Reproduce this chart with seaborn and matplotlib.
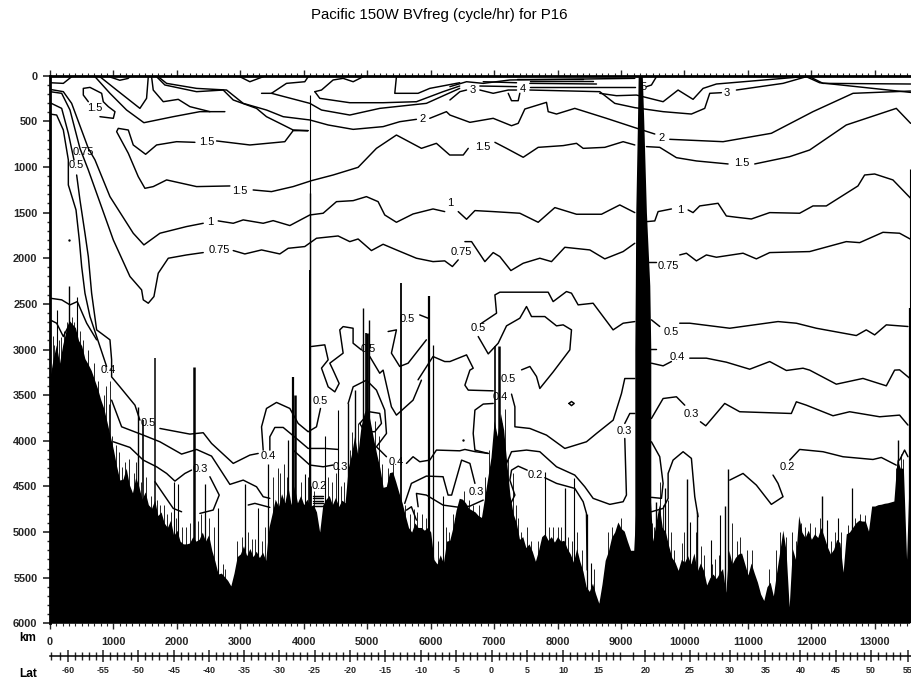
import numpy as np
import pandas as pd
import matplotlib
matplotlib.use("Agg")
import matplotlib.pyplot as plt
from matplotlib.ticker import MultipleLocator
import seaborn as sns

TITLE = "Pacific 150W BVfreg (cycle/hr) for P16"

# Bottom depth (m), one value every 50 km along the section
bathy_depth = [
3300,3100,2950,3150,2950,2800,2680,2720,2760,2900,2960,3100,3160,3230,3330,3430,3550,3650,3800,3950,
4100,4280,4430,4420,4300,4480,4570,4400,4500,4640,4560,4700,4740,4650,4820,4780,4900,4950,4870,5040,
4980,5100,5130,5130,5120,5050,5100,5080,5000,5100,5030,5200,5320,5460,5450,5490,5530,5590,5450,5270,
5240,5150,5260,5180,5270,5210,5280,5220,5310,4950,4800,4640,4720,4580,4680,4500,4700,4500,4680,4600,
4700,4640,4720,4700,4780,5000,4700,4640,4600,4700,4620,4720,4650,4680,4300,4150,3950,4150,3850,3700,
3620,3800,3980,4150,4300,4510,4500,4350,4340,4450,4570,4680,4820,4950,5000,4900,4950,4950,4980,4950,
5000,5300,5350,5250,5340,5100,5090,4950,4760,4630,4640,4680,4740,4760,4780,4820,4840,4620,4400,4180,
3780,3950,3700,3880,4250,4600,4800,4900,5080,5050,5170,5130,5210,5320,5200,5050,5020,5090,5050,5110,
5050,5100,5090,5180,5240,5330,5180,5320,5430,5600,5650,5560,5680,5780,5570,5310,5210,5060,5000,4890,
4960,4990,5100,5200,5200,4500,4500,4500,4500,4500,5100,4900,4700,4950,5000,5150,5280,5330,5420,5300,
5330,5260,5350,5230,5430,5340,5420,5580,5500,5460,5510,5450,5400,5660,5200,5350,5280,5240,5230,5350,
5470,5340,5450,5550,5680,5750,5600,5550,5700,5450,5220,4980,5200,5820,5180,5300,4820,5000,5060,4980,
5080,5020,5060,4950,5050,5160,5240,5190,5080,5120,5440,5020,5000,4950,4900,4870,4880,4880,4990,4715,
4715,4700,4695,4685,4680,4670,4660,4200,4300,4300,5300,4200]
bathy_step_km = 50

# Narrow ridge near 9300 km: depth, west edge km, east edge km
ridge_depth = [0, 500, 1500, 2300, 3000, 4500, 6000]
ridge_west = [9270, 9259, 9232, 9225, 9217, 9217, 9217]
ridge_east = [9335, 9358, 9400, 9453, 9469, 9469, 9469]

# Tall soundings: km, shallowest depth, line width
spike_km = [305,420,105,1654,2273,3832,4105,4105,4105,4935,5024,4987,5539,5975,6037,1391,1470,3071,2441,1953,2021,
            2651,3281,3439,3754,4016,4331,4541,4699,4804,6195,7012,7080,7800,8114,8261,8466,8534,9558,9689,10046,
            10204,10094,10424,10566,10634,10687,12172,12251,12640,12419,13364,13548,13548,3860,5000]
spike_top = [2300,2420,2566,3095,3190,3300,210,1290,2130,2550,2675,2820,2275,2410,2950,3630,3770,4470,4470,4450,4470,
             4740,4740,4250,3990,4360,3950,3660,3590,3445,4610,2960,2960,4340,4520,4410,4800,5340,4670,4520,4420,
             4780,4890,5090,4810,4720,4310,4600,4870,4520,4850,3990,1020,2550,3500,2820]
spike_lw = [1.0,0.8,0.8,1.1,1.8,1.6,0.8,1.0,1.4,1.0,1.0,1.2,1.3,1.6,0.9,1.0,1.2,0.9,0.9,0.8,0.8,
            0.8,0.8,0.9,0.9,0.8,0.8,0.8,1.0,1.0,0.8,1.2,1.8,0.8,0.9,0.8,0.9,0.8,1.0,0.9,1.0,
            1.0,0.8,0.8,0.8,1.0,1.0,1.0,0.8,0.9,0.8,1.0,0.8,1.6,1.8,2.0]

# Short soundings that roughen the sea floor
fine_km = [40,70,105,135,170,225,270,350,380,470,520,600,700,760,850,880,930,950,985,1040,1080,1130,1180,1240,1320,1360,
           1430,1510,1590,1690,1740,1790,1840,1900,1980,2080,2150,2200,2330,2380,2500,2580,2720,2760,2950,3020,3120,3180,
           3230,3340,3390,3510,3590,3630,3690,3730,3960,4060,4110,4160,4380,4440,4500,4590,4640,4730,4760,4860,5120,5180,
           5240,5320,5400,5600,5680,5730,5790,5860,5920,6120,6240,6290,6345,6385,6425,6520,6600,6660,6760,6860,6920,7130,
           7170,7220,7290,7340,7380,7430,7510,7580,7690,7860,7930,8000,8060,8170,8220,8310,8390,8570,8800,8850,9000,9490,
           9520,9620,9660,9740,9790,9840,9960,10000,10180,10260,10300,10440,10480,10540,10750,10830,10880,10980,11060,11330,
           11440,11500,11600,11700,11760,11840,11900,11980,12050,12130,12310,12370,12460,12580,12690,12760,12840,13340,13410,13450]
fine_top = [2850,2950,2720,2900,2860,2800,2700,2640,2700,2800,2900,3000,3150,3350,3500,3400,3600,3350,3950,4050,4120,4290,4230,4200,4350,4230,
            4450,4400,4600,4650,4700,4700,4800,4780,4850,4950,4950,4900,4880,4800,4850,4950,5350,5400,5100,5050,5000,5080,
            5080,5100,4950,4400,4300,4350,4250,4400,4450,4400,4500,4550,4400,4450,4350,4500,4450,4100,3900,3800,3780,3950,
            4250,4300,4250,4700,4800,4750,4780,4800,4850,5100,4950,5000,4800,4850,4700,4550,4650,4700,4700,4400,4100,3800,
            3650,4200,4350,4700,4850,5000,4950,5100,5100,4950,4950,4950,4950,5050,5100,5000,5200,5400,5000,4950,4850,4900,
            4950,4450,4700,4650,5000,5200,5120,5000,5000,5150,5250,5350,5300,5250,4900,5100,5050,5200,5200,5400,
            5200,5000,5050,5000,5100,4900,4950,4900,4950,4850,5100,5000,5000,4920,4850,4800,4810,4300,4150,4200]

# Contours as (km, depth) polylines
c075a = [(0,175),(184,193),(315,376),(472,796),(604,1033),(735,1288),(998,1800),(1260,2200),(1444,2347),(1470,2456),(1549,2493),(1638,2420),(1706,2164),(1864,2000),(2152,1964),(2415,1938)]
c075b = [(2888,1916),(3071,1953),(3334,1909),(3622,1953),(3754,1891),(4016,1872),(4200,1781),(4541,1756),(4725,1818),(4856,1789),(5066,1916),(5250,1847),(5460,1909),(5775,2000),(6037,2037),(6221,2029),(6342,2091),(6434,2018)]
c075c = [(6539,1818),(6644,1818),(6854,2037),(6985,1938),(7090,1982),(7264,2135),(7458,2055),(7720,2000),(7904,2037),(8114,1880),(8508,1909),(8744,2007),(9033,1927),(9217,1836)]
c075d = [(9427,2044),(9558,2044)]
c075e = [(9925,1964),(10030,1945),(10188,2029),(10345,1964),(10503,1989),(10923,1945),(11133,2007),(11343,1938),(11973,1927),(12550,1818),(12761,1829),(13128,1716),(13390,1726),(13564,1792)]
c1a = [(0,150),(210,175),(341,303),(604,796),(709,923),(945,1325),(1312,1726),(1480,1854),(1733,1726),(2152,1653),(2415,1617)]
c1b = [(2651,1591),(2888,1617),(3045,1580),(3360,1617),(3517,1588),(3780,1642),(4095,1526),(4305,1507),(4515,1380),(4778,1369),(4987,1325),(5171,1380),(5276,1526),(5460,1606),(5722,1515),(6037,1460),(6221,1489)]
c1c = [(6434,1489),(6565,1573),(6697,1478),(6985,1489),(7405,1507),(7694,1606),(7957,1445),(8298,1518),(8692,1518),(8980,1416),(9217,1500)]
c1d = [(9400,1599),(9532,1591),(9584,1489),(9794,1460)]
c1e = [(10057,1471),(10135,1500),(10240,1427),(10529,1398),(10660,1537),(10818,1551),(11054,1570),(11343,1500),(11815,1507),(12025,1427),(12235,1427),(12734,1208),(12839,1088),(12997,1077),(13285,1142),(13564,1343)]
c05a = [(0,296),(184,358),(289,631),(378,923)]
c05b = [(420,1088),(472,1361),(551,1726),(604,1982),(656,2383),(735,2785),(945,2894),(971,3113),(971,3300),(1102,3409),(1339,3610),(1417,3774)]
c05c = [(1732,3865),(2205,3927),(2415,3912),(2546,4029),(2888,4248),(3150,4157),(3281,4139)]
c05d = [(3360,4102),(3334,3847),(3412,3646),(3570,3580),(3780,3646),(3911,3810),(4069,3901),(4200,3847),(4263,3646)]
c04a = [(0,420),(105,431),(210,595),(289,923),(289,1197),(410,1471),(462,1800),(499,2091),(551,2383),(630,2639),(735,2858),(892,3186)]
c04b = [(971,3555),(1129,3847),(1470,3938),(1732,4011),(2074,4146),(2310,4095),(2546,4168),(2835,4478),(3045,4431),(3255,4504),(3360,4613),(3465,4631)]
c03a = [(998,4011),(1260,4073),(1470,4212),(1680,4285),(1838,4358),(1969,4442),(2126,4358),(2231,4321)]
c03b = [(2520,4394),(2667,4595),(2572,4759),(2362,4796)]
c03c = [(1654,4449),(1942,4741),(2074,4778)]
c02a = [(3124,4704),(3229,4686),(3465,4730)]
cpeak1 = [(0,2438),(184,2456),(315,2511),(430,2475),(578,2712),(735,2894)]
cpeak2 = [(0,2675),(105,2712),(210,2858),(315,2712)]
c04c = [(3465,4102),(3465,3956),(3544,3854),(3675,3854),(3885,3975),(4069,4084),(4331,4084),(4541,4095)]
c03d = [(3832,4102),(4095,4266),(4305,4285),(4462,4266)]
hatch1 = [(4147,4606),(4305,4606)]
hatch2 = [(4147,4631),(4305,4631)]
hatch3 = [(4147,4657),(4305,4657)]
hatch4 = [(4147,4686),(4305,4686)]
hatch5 = [(4147,4716),(4305,4716)]
cs1 = [(4699,3591),(4778,3409),(4987,3336),(5145,3445),(5276,3664),(5303,3920),(5145,4066),(5303,4175)]
cs2 = [(4882,3810),(5040,3683),(5197,3700),(5224,3810),(5119,3901),(4961,3901),(4882,3810)]
c05e = [(4121,2967),(4331,2949),(4384,3113),(4279,3204),(4384,3409),(4489,3464),(4557,3372),(4462,3226),(4410,3150),(4620,3040),(4567,2785),(4620,2749),(4777,2767),(4777,2931),(4908,3004)]
c05f = [(5040,3077),(5197,3260),(5250,3226),(5381,3628),(5460,3719),(5722,3555),(5854,3336)]
c05g = [(5329,2803),(5460,2785),(5381,3040),(5512,3186),(5644,3150),(5932,2894)]
c05h = [(5827,2621),(5959,2657)]
c05i = [(5801,3332),(6037,3077),(6221,3132),(6303,3132),(6565,3059),(6670,3205),(6618,3226),(6539,3391),(6592,3445),(6985,3453)]
c05j = [(7432,3223),(7563,3186),(7668,3296),(7720,3427),(7931,3245),(8193,3004),(8219,2785),(8088,2730),(7983,2741),(7799,2639),(7589,2639),(7510,2529),(7405,2657),(7195,2741),(7064,2931),(6907,3048),(6749,2858)]
c05k = [(6802,2712),(7038,2602),(7012,2402),(7090,2372),(7852,2372),(7930,2475),(8140,2365),(8219,2383),(8324,2511),(8560,2493),(8875,2785),(9033,2712),(9217,2694)]
c05l = [(9479,2675),(9610,2748)]
c05m = [(9925,2712),(10083,2712),(10713,2767),(11474,2694),(11763,2712),(12078,2767),(12708,2847),(12865,2785),(12997,2840),(13181,2730),(13522,2748)]
c04d = [(9453,2997),(9558,2997)]
c04e = [(9479,3150),(9663,3179),(9794,3132)]
c04f = [(10083,3095),(10345,3095),(10660,3139),(11028,3216),(11343,3132),(11606,3230),(11868,3205),(11973,3226),(12393,3380),(12813,3317),(13181,3398),(13312,3226),(13390,3223),(13548,3314)]
c04g = [(6985,3591),(6828,3598),(6697,3664),(6670,3920),(6697,4102),(6907,4139)]
c04h = [(5618,4248),(5722,4175),(5828,4230),(5985,4212),(6090,4102),(6458,4110),(6539,4095),(6697,4119),(6907,4139)]
c03e = [(5591,4686),(5696,4467),(5932,4387),(6195,4394),(6274,4595),(6330,4595),(6487,4212),(6618,4248),(6697,4467)]
c03f = [(5802,4723),(5775,4577),(5932,4595),(6195,4705),(6457,4730),(6618,4716),(6828,4650)]
c03g = [(5618,4760),(5696,4723),(5775,4869)]
c04i = [(7274,3489),(7327,3628),(7327,3847),(7563,3865),(7825,3938),(8114,4084),(8455,4011),(8613,3920),(8876,3774),(9007,3482),(9059,3318),(9217,3318)]
c03h = [(9059,3975),(9085,4595),(9033,4668),(8823,4697),(8560,4631),(8429,4504),(8271,4376),(7983,4285),(7720,4120),(7510,4102),(7274,4120),(7195,4248)]
c03i = [(9059,3810),(9138,3701),(9217,3701)]
c02b = [(7521,4322),(7379,4278),(7274,4322),(7248,4431),(7327,4595),(7248,4705)]
c02c = [(7799,4405),(7983,4467),(8271,4522),(8403,4668),(8455,4796),(8466,5416)]
ring = [(8180,3591),(8219,3570),(8262,3591),(8219,3615),(8180,3591)]
c03j = [(9479,4011),(9610,4175),(9663,4467),(9637,4631),(9479,4620)]
c02d = [(9479,4778),(9663,4741),(9742,4631),(9742,4358),(9820,4212),(9978,4120),(10109,4193),(10162,4613),(10214,4832)]
c03k = [(9479,3756),(9663,3537),(9873,3518),(10004,3610)]
c03l = [(10251,3792),(10335,3836),(10634,3591),(10870,3682),(11684,3701),(11763,3573),(11921,3610),(12341,3726),(12603,3682),(13076,3737),(13390,3719),(13522,3828)]
c02e = [(10713,4431),(10923,4358),(11133,4486),(11369,4697),(11553,4613),(11474,4467),(11395,4376)]
c02f = [(11658,4212),(11815,4095),(12183,4120),(12498,4175),(12971,4205),(13102,4183),(13338,4267)]
c02g = [(13390,4212),(13469,4102),(13522,4175)]
u_small = [(0,77),(210,84),(341,11)]
u_small2 = [(950,15),(1100,50),(1230,30),(1260,11)]
u_small3 = [(2993,11),(3150,66),(3360,11)]
blob_a = [(604,285),(525,212),(525,139),(630,128),(814,193),(840,285),(919,339),(1024,394),(998,467),(787,449)]
u1 = [(787,11),(1050,157),(1417,358),(1522,248),(1549,11)]
u2 = [(709,11),(945,193),(1207,376),(1480,515),(1942,449),(2362,394),(2756,394)]
u2b = [(1601,11),(1627,157),(1785,285),(2021,259),(2205,339),(2520,394)]
u3 = [(1680,11),(1811,102),(2310,175),(2730,157),(2888,266),(3255,358),(3412,449),(3675,540),(3832,595),(4069,602),(3832,602),(3701,723),(3150,759),(2625,715)]
u3b = [(2284,730),(1995,723),(1680,759),(1507,861),(1312,759),(1234,595),(1076,577),(1050,613),(1234,850),(1391,1106),(1496,1234),(1627,1215),(1838,1142),(2310,1215),(2835,1208)]
u3c = [(3202,1252),(3491,1270),(3832,1215),(4121,1150),(4462,1088),(4856,1004),(5145,796),(5460,650),(5854,796),(6090,741),(6300,869),(6513,869),(6592,796)]
u3d = [(7012,730),(7195,796),(7458,894),(7694,785),(8088,766),(8298,741),(8403,796),(8744,785),(9033,723),(9217,759)]
u3e = [(9400,777),(9610,785),(9873,898),(10188,934),(10687,967)]
u3f = [(11107,967),(11658,887),(11973,814),(12550,540),(13338,358),(13564,522)]
u5 = [(1706,11),(1837,84),(2310,139),(2783,157),(3045,303),(3412,376),(3675,449),(4095,485),(4384,540),(4778,588),(5250,558),(5512,504),(5775,478)]
u5b = [(5985,467),(6248,394),(6303,431),(6618,511),(6985,467),(7274,548),(7379,522),(7484,365),(7825,292),(7852,394),(7983,420),(8271,358),(8770,467),(9217,569),(9532,639)]
u5c = [(9768,697),(10608,723),(11369,631),(12025,394),(12656,193),(13564,168)]
u6 = [(3334,193),(3491,193),(3727,84),(4016,66),(4069,11)]
u7 = [(3491,193),(4095,303),(4279,376),(4725,431),(5197,358),(5932,303),(6457,139)]
u8 = [(4174,175),(4279,157),(4462,47),(4620,29),(4778,66),(4935,11)]
u9 = [(4174,175),(4252,248),(4725,296),(5250,296),(5775,285),(6195,175),(6457,113)]
u10 = [(5460,11),(5434,193),(5801,193),(5985,139),(6457,77)]
t1 = [(6303,120),(6565,66),(6828,84),(7248,47),(9217,29)]
t2 = [(6303,266),(6460,175),(6565,157)]
t2b = [(6775,157),(6985,193),(7222,157),(7353,157)]
t3 = [(6775,113),(7353,120)]
t4 = [(6828,66),(7353,77)]
t5 = [(7353,36),(8403,36)]
t6 = [(7563,157),(8665,175),(8901,303),(9217,350),(9663,394),(10109,420),(10319,358),(10398,193),(10582,186)]
t6b = [(10818,157),(11553,84),(11920,11),(12130,77),(13564,183)]
t7 = [(7563,120),(9217,120)]
t8 = [(7563,84),(8613,91)]
t9 = [(7563,55),(8561,55)]
t10 = [(7222,193),(7274,274),(7379,274),(7405,193)]
t11 = [(8665,193),(8928,219),(9243,212),(9663,285),(9899,157),(10135,259),(10293,139),(10503,91),(11868,11)]
t12 = [(11973,11),(12183,84),(13564,91)]
t13 = [(9558,11),(9479,102),(9400,120)]

contour_lines = [c075a,c075b,c075c,c075d,c075e,c1a,c1b,c1c,c1d,c1e,c05a,c05b,c05c,c05d,c04a,c04b,c03a,c03b,c03c,c02a,
    cpeak1,cpeak2,c04c,c03d,hatch1,hatch2,hatch3,hatch4,hatch5,cs1,cs2,c05e,c05f,c05g,c05h,c05i,c05j,c05k,c05l,c05m,
    c04d,c04e,c04f,c04g,c04h,c03e,c03f,c03g,c04i,c03h,c03i,c02b,c02c,ring,c03j,c02d,c03k,c03l,c02e,c02f,c02g,
    u_small,u_small2,u_small3,blob_a,u1,u2,u2b,u3,u3b,u3c,u3d,u3e,u3f,u5,u5b,u5c,u6,u7,u8,u9,u10,
    t1,t2,t2b,t3,t4,t5,t6,t6b,t7,t8,t9,t10,t11,t12,t13]

label_text = ["1.5","1.5","1.5","1.5","1.5","2","2","3","4","5","3",
              "1","1","1","0.75","0.75","0.75","0.75","0.5",
              "0.4","0.5","0.3","0.4","0.5","0.5","0.5","0.5","0.5","0.5","0.4","0.3","0.2","0.3","0.3","0.2","0.4","0.3","0.2","0.4"]
label_km = [709,2467,2993,6828,10897,5864,9637,6655,7447,9358,10671,
            2530,6300,9925,525,2667,6476,9742,410,
            919,1549,2362,3439,4263,5014,5630,6749,7222,9784,9884,10109,11621,6723,9059,7642,7090,4578,4242,5460]
label_dep = [350,730,1259,777,953,474,679,157,146,128,186,
             1606,1390,1471,832,1909,1934,2080,978,
             3223,3803,4307,4168,3562,3000,2668,2767,3325,2803,3077,3712,4285,4558,3891,4376,3518,4292,4493,4237]

lat_labels = [-60,-55,-50,-45,-40,-35,-30,-25,-20,-15,-10,-5,0,5,10,15,20,25,30,35,40,45,50,55]
lat_label_km = [289,840,1391,1948,2504,3061,3612,4169,4725,5287,5843,6405,6959,7521,8088,8650,9385,10083,10713,11275,11826,12382,12934,13522]
lat_anchor = [-62,-60,-55,-50,-45,-40,-35,-30,-25,-20,-15,-10,-5,0,5,10,15,18,20,25,30,35,40,45,50,55,57]
lat_anchor_km = [20,289,840,1391,1948,2504,3061,3612,4169,4725,5287,5843,6405,6959,7521,8088,8650,8991,9385,10083,10713,11275,11826,12382,12934,13522,13570]

sns.set_theme(style="white")
plt.rcParams["font.family"] = ["Liberation Sans", "DejaVu Sans"]

W, H = 911, 682
fig = plt.figure(figsize=(W / 100, H / 100), dpi=100)
ax = fig.add_axes([50 / W, 1 - 623.3 / H, 861 / W, (623.3 - 75.7) / H])
ax.set_xlim(0, 13570)
ax.set_ylim(6000, 0)

for line in contour_lines:
    d = pd.DataFrame(line, columns=["km", "depth"])
    sns.lineplot(data=d, x="km", y="depth", sort=False, estimator=None, color="black", lw=1.05, ax=ax, zorder=2)

bathy_km = np.arange(len(bathy_depth)) * bathy_step_km
ax.fill_between(bathy_km, bathy_depth, 6000, color="black", lw=0, zorder=3)
ax.fill_betweenx(ridge_depth, ridge_west, ridge_east, color="black", lw=0, zorder=3)
ax.vlines(fine_km, fine_top, 6000, colors="black", linewidths=0.6, zorder=3)
ax.vlines(spike_km, spike_top, 6000, colors="black", linewidths=spike_lw, zorder=3)
ax.scatter([304, 6513], [1800, 3993], s=3, color="black", lw=0, zorder=3)

for t, x, y in zip(label_text, label_km, label_dep):
    ax.text(x, y, t, ha="center", va="center", fontsize=8.0, color="black", zorder=4)

ax.set_xlabel("")
ax.set_ylabel("")
ax.xaxis.set_major_locator(MultipleLocator(1000))
ax.xaxis.set_minor_locator(MultipleLocator(100))
ax.yaxis.set_major_locator(MultipleLocator(500))
ax.yaxis.set_minor_locator(MultipleLocator(100))
ax.tick_params(axis="x", which="major", bottom=True, top=True, length=4.5, width=1.0, direction="out", labelsize=7.9, pad=5.5)
ax.tick_params(axis="x", which="minor", bottom=True, top=True, length=2, width=0.8, direction="out")
ax.tick_params(axis="y", which="major", left=True, length=5, width=1.2, direction="out", labelsize=7.9, pad=4)
ax.tick_params(axis="y", which="minor", left=True, length=2.5, width=1.0, direction="out")
for lb in ax.get_xticklabels() + ax.get_yticklabels():
    lb.set_fontweight("bold")
for s in ("right", "bottom"):
    ax.spines[s].set_visible(False)
for s in ("left", "top"):
    ax.spines[s].set_linewidth(2.0)
    ax.spines[s].set_color("black")

# Latitude scale below the km axis
lat = fig.add_axes([50 / W, 1 - 656 / H, 861 / W, 0.0005])
lat.set_xlim(0, 13570)
lat.set_yticks([])
for s in ("left", "right", "top"):
    lat.spines[s].set_visible(False)
lat.spines["bottom"].set_linewidth(1.1)
lat.spines["bottom"].set_color("black")
lat.set_xticks(lat_label_km)
lat.set_xticklabels([str(v) for v in lat_labels], fontsize=6.5, fontweight="bold")
deg = np.arange(-62, 56)
lat.set_xticks(np.interp(deg, lat_anchor, lat_anchor_km), minor=True)
lat.tick_params(axis="x", which="major", direction="inout", bottom=True, length=9, width=1.1, pad=3)
lat.tick_params(axis="x", which="minor", direction="inout", bottom=True, length=6, width=1.0)

fig.text(439 / W, 1 - 15 / H, TITLE, ha="center", va="center", fontsize=10.8, color="black")
fig.text(28 / W, 1 - 638 / H, "km", ha="center", va="center", fontsize=8.4, fontweight="bold", color="black")
fig.text(28 / W, 1 - 674 / H, "Lat", ha="center", va="center", fontsize=8.6, fontweight="bold", color="black")

fig.savefig("out.png", dpi=100, facecolor="white")
